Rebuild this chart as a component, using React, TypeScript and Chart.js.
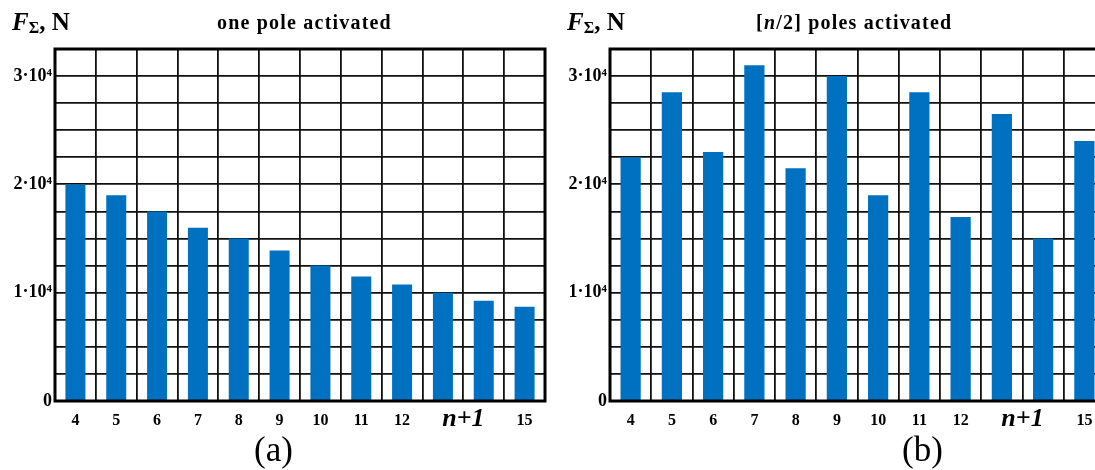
import React, { useEffect, useRef } from 'react';
import { Chart, registerables } from 'chart.js';

Chart.register(...registerables);

// Number of poles n (the slots 13 and 14 are labelled together as "n+1")
const categories = ['4', '5', '6', '7', '8', '9', '10', '11', '12', '13', '14', '15'];
const xTickLabels = ['4', '5', '6', '7', '8', '9', '10', '11', '12', '', '', '15'];

// Total force F_Σ, N
const onePoleForce = [20000, 19000, 17500, 16000, 15000, 13900, 12500, 11500, 10750, 10000, 9250, 8700];
const halfPolesForce = [22500, 28500, 23000, 31000, 21500, 30000, 19000, 28500, 17000, 26500, 15000, 24000];

// Y axis: grid every 2500 N, labels every 10^4 N
const yLabelValues = [0, 10000, 20000, 30000];
const yTickLabels = ['0', '1·10⁴', '2·10⁴', '3·10⁴'];
const Y_MAX = 32500;
const Y_STEP = 2500;

const SERIF = '"Liberation Serif", "Times New Roman", serif';
const BAR_BLUE = '#0070c0';

const framePlugin = {
  id: 'frameAndGroupLabel',
  afterDraw(chart: any) {
    const { ctx, chartArea: a, scales } = chart;
    ctx.save();
    ctx.strokeStyle = '#000';
    ctx.lineWidth = 3;
    ctx.strokeRect(a.left, a.top, a.right - a.left, a.bottom - a.top);
    // "n+1" sits under the boundary between the 13 and 14 slots
    const x = (scales.x.getPixelForValue(9) + scales.x.getPixelForValue(10)) / 2;
    ctx.font = `italic bold 26px ${SERIF}`;
    ctx.fillStyle = '#000';
    ctx.textAlign = 'center';
    ctx.textBaseline = 'alphabetic';
    ctx.fillText('n+1', x, a.bottom + 25);
    ctx.restore();
  },
};

type PanelProps = {
  values: number[];
  left: number;
  width: number;
  rightPad: number;
};

function BarPanel({ values, left, width, rightPad }: PanelProps) {
  const ref = useRef<HTMLCanvasElement | null>(null);

  useEffect(() => {
    if (!ref.current) return;
    const chart = new Chart(ref.current, {
      type: 'bar',
      data: {
        labels: categories,
        datasets: [
          {
            data: values,
            backgroundColor: BAR_BLUE,
            borderWidth: 0,
            barPercentage: 0.49,
            categoryPercentage: 1,
          },
        ],
      },
      options: {
        responsive: false,
        animation: false,
        events: [],
        layout: { padding: { left: 0, right: rightPad, top: 49, bottom: 0 } },
        plugins: { legend: { display: false }, tooltip: { enabled: false }, title: { display: false } },
        scales: {
          x: {
            offset: true,
            grid: { offset: true, color: '#111', lineWidth: 1.8, drawTicks: false },
            border: { display: false },
            ticks: {
              padding: 10,
              color: '#000',
              maxRotation: 0,
              autoSkip: false,
              font: { family: SERIF, size: 16, weight: 'bold' },
              callback: (_v: any, i: number) => xTickLabels[i],
            },
            afterFit: (s: any) => {
              s.height = 69;
            },
          },
          y: {
            min: 0,
            max: Y_MAX,
            grid: { color: '#111', lineWidth: 1.8, drawTicks: false },
            border: { display: false },
            ticks: {
              stepSize: Y_STEP,
              autoSkip: false,
              padding: 3,
              color: '#000',
              font: { family: SERIF, size: 18, weight: 'bold' },
              callback: (v: any) => {
                const i = yLabelValues.indexOf(Number(v));
                return i >= 0 ? yTickLabels[i] : '';
              },
            },
            afterFit: (s: any) => {
              s.width = 55;
            },
          },
        },
      },
      plugins: [framePlugin],
    });
    return () => chart.destroy();
  }, [values, rightPad]);

  return (
    <canvas
      ref={ref}
      width={width}
      height={470}
      style={{ position: 'absolute', left, top: 0, width, height: 470 }}
    />
  );
}

const textBase: React.CSSProperties = {
  position: 'absolute',
  fontFamily: SERIF,
  color: '#000',
  whiteSpace: 'nowrap',
};

function AxisName({ left }: { left: number }) {
  return (
    <div style={{ ...textBase, left, top: 10, fontSize: 25, lineHeight: '24px', fontWeight: 'bold' }}>
      <span style={{ fontStyle: 'italic' }}>F</span>
      <span style={{ fontSize: 16, position: 'relative', top: 3 }}>Σ</span>
      <span>, N</span>
    </div>
  );
}

export default function App() {
  return (
    <div
      style={{
        position: 'fixed',
        left: 0,
        top: 0,
        width: 1095,
        height: 470,
        overflow: 'hidden',
        background: '#fff',
      }}
    >
      <BarPanel values={onePoleForce} left={0} width={555} rightPad={10} />
      <BarPanel values={halfPolesForce} left={555} width={560} rightPad={10} />

      <AxisName left={12} />
      <AxisName left={567} />

      <div style={{ ...textBase, left: 217, top: 12, fontSize: 20, lineHeight: '20px', fontWeight: 'bold', letterSpacing: 1.2 }}>
        one pole activated
      </div>
      <div style={{ ...textBase, left: 756, top: 12, fontSize: 20, lineHeight: '20px', fontWeight: 'bold', letterSpacing: 1.2 }}>
        [<span style={{ fontStyle: 'italic' }}>n</span>/2] poles activated
      </div>

      <div style={{ ...textBase, left: 254, top: 432, fontSize: 35, lineHeight: '35px' }}>(a)</div>
      <div style={{ ...textBase, left: 902, top: 432, fontSize: 35, lineHeight: '35px' }}>(b)</div>
    </div>
  );
}
